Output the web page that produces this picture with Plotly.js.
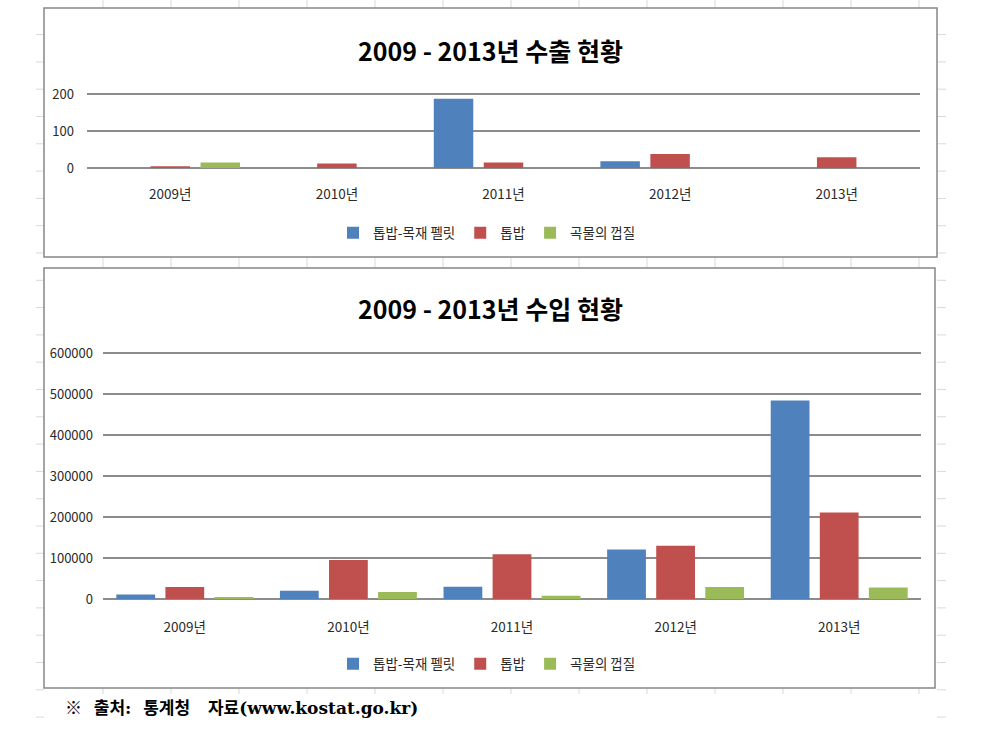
<!DOCTYPE html>
<html>
<head>
<meta charset="utf-8">
<script src="https://cdn.plot.ly/plotly-3.0.1.min.js"></script>
<style>
html,body{margin:0;padding:0;background:#fff;}
#chart{width:981px;height:737px;}
</style>
</head>
<body>
<div id="chart"></div>
<script>
// ---- data ----
var categories = ['2009년', '2010년', '2011년', '2012년', '2013년'];
var seriesNames = ['톱밥-목재 펠릿', '톱밥', '곡물의 껍질'];
var exportPellet = [0, 0, 187, 18, 0];
var exportSawdust = [5, 12, 15, 38, 29];
var exportHusk = [15, 0, 0, 0, 0];
var importPellet = [11000, 20000, 30000, 121000, 484000];
var importSawdust = [29000, 95000, 109000, 130000, 211000];
var importHusk = [5000, 17000, 8000, 29000, 28000];
var exportTicks = [0, 100, 200];
var importTicks = [0, 100000, 200000, 300000, 400000, 500000, 600000];
var titleExport = '2009 - 2013년 수출 현황';
var titleImport = '2009 - 2013년 수입 현황';
var sourceNote = '※\u00A0 출처:\u00A0 통계청\u00A0\u00A0 자료(www.kostat.go.kr)';

// ---- styling ----
var colors = ['#4F81BD', '#C0504D', '#9BBB59'];
var FONT = '"Noto Sans CJK KR", "Noto Sans", sans-serif';
var W = 981, H = 737;
function px(x) { return x / W; }
function py(y) { return 1 - y / H; }

var exportSeries = [exportPellet, exportSawdust, exportHusk];
var importSeries = [importPellet, importSawdust, importHusk];
var traces = [];
for (var i = 0; i < 3; i++) {
  traces.push({
    type: 'bar', x: categories, y: exportSeries[i], name: seriesNames[i],
    marker: {color: colors[i]}, xaxis: 'x', yaxis: 'y', legend: 'legend',
    hoverinfo: 'skip'
  });
}
for (var j = 0; j < 3; j++) {
  traces.push({
    type: 'bar', x: categories, y: importSeries[j], name: seriesNames[j],
    marker: {color: colors[j]}, xaxis: 'x2', yaxis: 'y2', legend: 'legend2',
    hoverinfo: 'skip'
  });
}

// decorative spreadsheet grid + chart boxes
var shapes = [];
var faint = '#d9d9d9';
for (var ry = 34.6; ry < H; ry += 27.3) {
  shapes.push({type: 'line', xref: 'paper', yref: 'paper', x0: px(36), x1: px(44), y0: py(ry), y1: py(ry), line: {color: faint, width: 1}, layer: 'below'});
  shapes.push({type: 'line', xref: 'paper', yref: 'paper', x0: px(937), x1: px(946), y0: py(ry), y1: py(ry), line: {color: faint, width: 1}, layer: 'below'});
}
for (var cx = 103; cx < 940; cx += 68) {
  shapes.push({type: 'line', xref: 'paper', yref: 'paper', x0: px(cx), x1: px(cx), y0: py(0), y1: py(8), line: {color: faint, width: 1}, layer: 'below'});
  shapes.push({type: 'line', xref: 'paper', yref: 'paper', x0: px(cx), x1: px(cx), y0: py(257), y1: py(268), line: {color: faint, width: 1}, layer: 'below'});
  shapes.push({type: 'line', xref: 'paper', yref: 'paper', x0: px(cx), x1: px(cx), y0: py(688), y1: py(694), line: {color: faint, width: 1}, layer: 'below'});
}
shapes.push({type: 'rect', xref: 'paper', yref: 'paper', x0: px(44), x1: px(937), y0: py(257), y1: py(8), line: {color: '#868686', width: 1.5}, fillcolor: 'rgba(0,0,0,0)', layer: 'below'});
shapes.push({type: 'rect', xref: 'paper', yref: 'paper', x0: px(44), x1: px(935), y0: py(688), y1: py(268), line: {color: '#868686', width: 1.5}, fillcolor: 'rgba(0,0,0,0)', layer: 'below'});

var gridC = '#8c8c8c';
var yTickFont = {family: FONT, size: 13, color: '#2a2a2a'};
var xTickFont = {family: FONT, size: 13.5, color: '#2a2a2a'};
var layout = {
  width: W, height: H, autosize: false,
  margin: {l: 0, r: 0, t: 0, b: 0, pad: 0},
  paper_bgcolor: '#ffffff', plot_bgcolor: 'rgba(0,0,0,0)',
  barmode: 'group', bargap: 0.1, bargroupgap: 0.21,
  font: {family: FONT, color: '#2a2a2a'},
  xaxis: {
    domain: [px(87), px(920)], anchor: 'y', type: 'category',
    showgrid: false, showline: true, linecolor: gridC, linewidth: 1.3,
    ticks: '', tickfont: xTickFont, ticklabelstandoff: 13, fixedrange: true
  },
  yaxis: {
    domain: [py(168), py(92.15)], anchor: 'x', range: [0, 205],
    tickvals: exportTicks, showgrid: true, gridcolor: gridC, gridwidth: 1.3,
    zeroline: true, zerolinecolor: gridC, zerolinewidth: 1.3, showline: false,
    ticks: '', tickfont: yTickFont, ticklabelstandoff: 12, fixedrange: true
  },
  xaxis2: {
    domain: [px(103), px(921)], anchor: 'y2', type: 'category',
    showgrid: false, showline: true, linecolor: gridC, linewidth: 1.3,
    ticks: '', tickfont: xTickFont, ticklabelstandoff: 15, fixedrange: true
  },
  yaxis2: {
    domain: [py(599), py(348.9)], anchor: 'x2', range: [0, 610000],
    tickvals: importTicks, tickformat: 'd', showgrid: true, gridcolor: gridC, gridwidth: 1.3,
    zeroline: true, zerolinecolor: gridC, zerolinewidth: 1.3, showline: false,
    ticks: '', tickfont: yTickFont, ticklabelstandoff: 9, fixedrange: true
  },
  showlegend: true,
  legend: {
    orientation: 'h', x: px(487), xanchor: 'center', y: py(233), yanchor: 'middle',
    font: {family: FONT, size: 13.5, color: '#2a2a2a'}, itemwidth: 30,
    bgcolor: 'rgba(0,0,0,0)', traceorder: 'normal'
  },
  legend2: {
    orientation: 'h', x: px(487), xanchor: 'center', y: py(664), yanchor: 'middle',
    font: {family: FONT, size: 13.5, color: '#2a2a2a'}, itemwidth: 30,
    bgcolor: 'rgba(0,0,0,0)', traceorder: 'normal'
  },
  annotations: [
    {text: '<b>' + titleExport + '</b>', xref: 'paper', yref: 'paper', x: px(490), y: py(50),
     xanchor: 'center', yanchor: 'middle', showarrow: false,
     font: {family: FONT, size: 25, color: '#000000'}},
    {text: '<b>' + titleImport + '</b>', xref: 'paper', yref: 'paper', x: px(490), y: py(308),
     xanchor: 'center', yanchor: 'middle', showarrow: false,
     font: {family: FONT, size: 25, color: '#000000'}},
    {text: '<b>' + sourceNote + '</b>', xref: 'paper', yref: 'paper', x: px(63), y: py(708),
     xanchor: 'left', yanchor: 'middle', showarrow: false,
     font: {family: '"DejaVu Serif", "Noto Sans CJK KR", serif', size: 17, color: '#000000'}}
  ],
  shapes: shapes
};

Plotly.newPlot('chart', traces, layout, {staticPlot: true, displayModeBar: false});
</script>
</body>
</html>
